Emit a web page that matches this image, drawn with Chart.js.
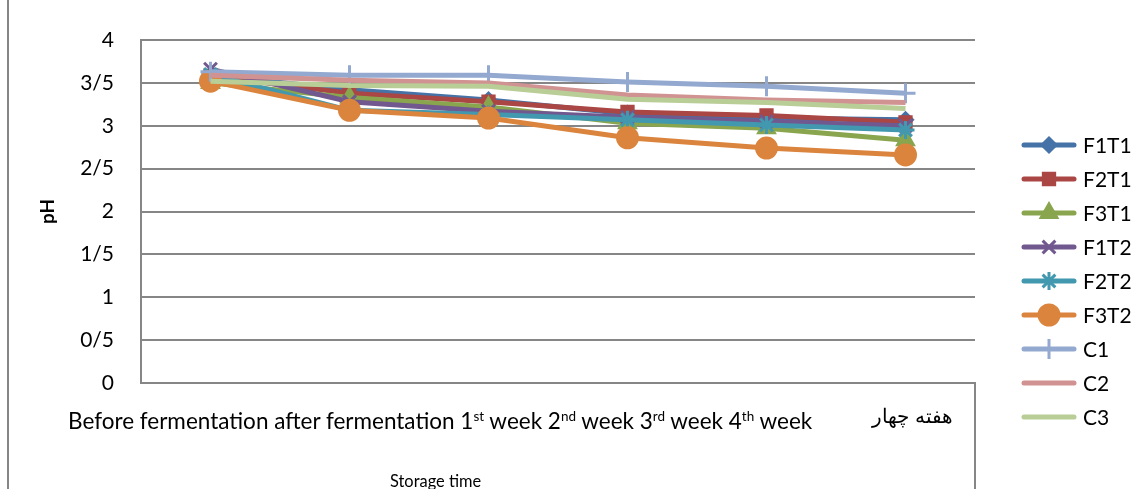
<!DOCTYPE html>
<html>
<head>
<meta charset="utf-8">
<script src="https://cdn.jsdelivr.net/npm/chart.js@4"></script>
<style>
  body { margin: 0; background: #fff; }
  #wrap { position: relative; width: 1140px; height: 489px; }
  .note { position: absolute; font-family: Lato, "Open Sans", sans-serif; color: #000; white-space: nowrap; }
  .note sup { font-size: 60%; }
</style>
</head>
<body>
<div id="wrap">
  <canvas id="chartPh" width="1140" height="489"></canvas>
  <div class="note" id="caption" style="left:68px; top:407px; font-size:22.5px;">Before fermentation after fermentation 1<sup>st</sup> week 2<sup>nd</sup> week 3<sup>rd</sup> week 4<sup>th</sup> week</div>
  <div class="note" id="xTitle" style="left:390px; top:471px; font-size:16.4px;">Storage time</div>
</div>
<script>
const categories = ['Before fermentation', 'after fermentation', '1st week', '2nd week', '3rd week', 'هفته چهار']
const seriesNames = ['F1T1', 'F2T1', 'F3T1', 'F1T2', 'F2T2', 'F3T2', 'C1', 'C2', 'C3']
const f1t1 = [3.59, 3.42, 3.30, 3.14, 3.09, 3.07]
const f2t1 = [3.58, 3.38, 3.28, 3.16, 3.12, 3.04]
const f3t1 = [3.50, 3.33, 3.22, 3.03, 2.97, 2.83]
const f1t2 = [3.66, 3.28, 3.17, 3.10, 3.05, 3.00]
const f2t2 = [3.60, 3.18, 3.13, 3.07, 3.01, 2.95]
const f3t2 = [3.52, 3.18, 3.09, 2.86, 2.74, 2.66]
const c1 = [3.63, 3.59, 3.59, 3.51, 3.46, 3.38]
const c2 = [3.59, 3.53, 3.50, 3.36, 3.30, 3.27]
const c3 = [3.52, 3.47, 3.46, 3.31, 3.27, 3.20]

const allSeries = [f1t1, f2t1, f3t1, f1t2, f2t2, f3t2, c1, c2, c3]
const colors = ['#4572A7', '#AA4643', '#89A54E', '#71588F', '#4198AF', '#DB843D', '#93A9CF', '#D19392', '#B9CD96']
const markers = ['rectRot', 'rect', 'triangle', 'crossRot', 'star', 'circle', 'cross', false, false]
const markerSize = [7, 8, 9, 9, 9, 10, 10, 0, 0]

const fontFamily = 'Lato, "Open Sans", sans-serif'
const gridColor = '#868686'

var datasets = allSeries.map(function (vals, i) {
    return {
        label: seriesNames[i],
        data: vals,
        borderColor: colors[i],
        backgroundColor: colors[i],
        borderWidth: 5,
        pointStyle: markers[i],
        pointRadius: markerSize[i],
        pointBorderWidth: 3,
        pointBorderColor: colors[i],
        pointBackgroundColor: colors[i],
        tension: 0,
        order: 9 - i
    }
})

// excel style legend: line with marker, then the name
const sideLegend = {
    id: 'sideLegend',
    afterDraw(chart) {
        const ctx = chart.ctx
        ctx.save()
        chart.data.datasets.forEach(function (ds, i) {
            const y = 145 + 34 * i
            ctx.strokeStyle = ds.borderColor
            ctx.lineWidth = 5
            ctx.lineCap = 'round'
            ctx.beginPath()
            ctx.moveTo(1024, y)
            ctx.lineTo(1074, y)
            ctx.stroke()
            if (ds.pointStyle) {
                ctx.fillStyle = ds.backgroundColor
                ctx.strokeStyle = ds.borderColor
                ctx.lineWidth = 3
                ctx.lineCap = 'butt'
                Chart.helpers.drawPoint(ctx, { pointStyle: ds.pointStyle, radius: ds.pointRadius, rotation: 0, borderWidth: 3 }, 1049, y)
            }
            ctx.fillStyle = '#000'
            ctx.font = '21px ' + fontFamily
            ctx.textBaseline = 'middle'
            ctx.textAlign = 'left'
            ctx.fillText(ds.label, 1083, y + 1)
        })
        ctx.restore()
    },
    beforeDraw(chart) {
        const ctx = chart.ctx
        ctx.save()
        ctx.strokeStyle = gridColor
        ctx.lineWidth = 2
        ctx.beginPath()
        ctx.moveTo(8, 0)
        ctx.lineTo(8, 489)
        ctx.moveTo(975, chart.chartArea.bottom)
        ctx.lineTo(975, 489)
        ctx.stroke()
        ctx.restore()
    }
}

var ctxPh = document.getElementById('chartPh').getContext('2d');
var chartPh = new Chart(ctxPh, {
    type: 'line',
    data: { labels: categories, datasets: datasets },
    plugins: [sideLegend],
    options: {
        responsive: false,
        animation: false,
        layout: { padding: { left: 0, right: 165, top: 40, bottom: 0 } },
        plugins: { legend: { display: false }, tooltip: { enabled: false } },
        scales: {
            x: {
                offset: true,
                grid: { display: false, drawTicks: false },
                border: { color: gridColor, width: 2 },
                ticks: {
                    autoSkip: false,
                    maxRotation: 0,
                    padding: 22,
                    labelOffset: 7,
                    color: '#000',
                    font: { family: fontFamily, size: 20 },
                    callback: function (v, i) { return i === categories.length - 1 ? categories[i] : '' }
                },
                afterFit: function (s) { s.height = 106 }
            },
            y: {
                min: 0,
                max: 4,
                ticks: {
                    stepSize: 0.5,
                    padding: 27,
                    color: '#000',
                    font: { family: fontFamily, size: 21 },
                    callback: function (v) { return String(v).replace('.', '/') }
                },
                grid: { color: gridColor, lineWidth: 2, drawTicks: false },
                border: { color: gridColor, width: 2 },
                title: {
                    display: true,
                    text: 'pH',
                    color: '#000',
                    font: { family: fontFamily, size: 19, weight: 'bold' },
                    padding: { top: 36, bottom: 0 }
                },
                afterFit: function (s) { s.width = 141 }
            }
        }
    }
});
</script>
</body>
</html>
